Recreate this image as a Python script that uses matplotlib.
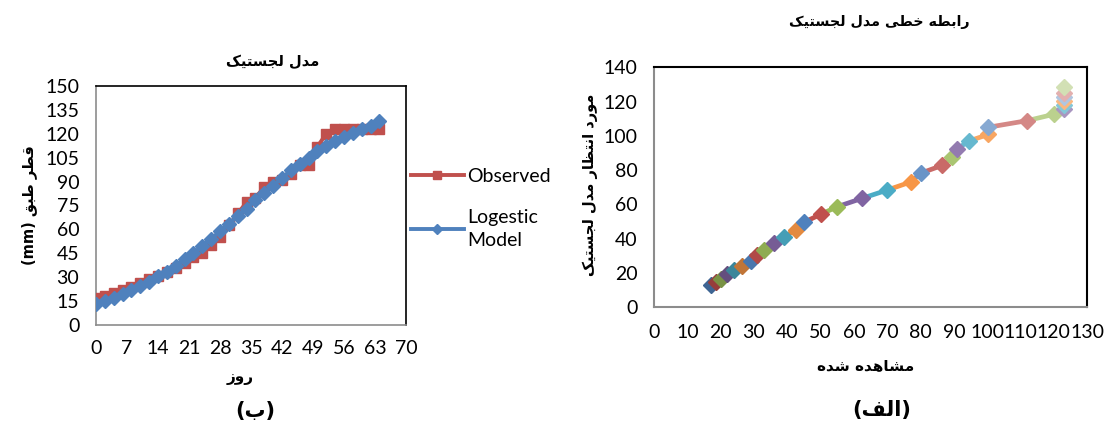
import matplotlib
matplotlib.use("Agg")
import matplotlib.pyplot as plt
import matplotlib.colors as mcolors

# ---------------- data ----------------
days = [0, 2, 4, 6, 8, 10, 12, 14, 16, 18, 20, 22, 24, 26, 28, 30, 32,
        34, 36, 38, 40, 42, 44, 46, 48, 50, 52, 54, 56, 58, 60, 62, 64]
observed = [17, 18.5, 20, 22, 24, 26.5, 29, 31, 33, 36, 39, 42.5, 45, 50, 55,
            62.5, 70, 77, 80, 86.5, 89.5, 91, 94.5, 100.4, 100.2, 112, 120,
            123, 123, 123, 123, 123, 123]
logistic = [13.0, 14.9, 16.7, 19.2, 21.8, 24.3, 27.0, 30.5, 33.4, 37.3, 41.2,
            45.1, 49.6, 54.2, 58.7, 63.6, 68.4, 73.1, 78.2, 82.8, 87.5, 92.4,
            97.0, 100.9, 105.0, 108.9, 112.6, 115.5, 118.0, 120.5, 122.9,
            125.2, 128.3]
left_xticks = [0, 7, 14, 21, 28, 35, 42, 49, 56, 63, 70]
left_yticks = [0, 15, 30, 45, 60, 75, 90, 105, 120, 135, 150]
right_xticks = [0, 10, 20, 30, 40, 50, 60, 70, 80, 90, 100, 110, 120, 130]
right_yticks = [0, 20, 40, 60, 80, 100, 120, 140]
legend_labels = ["Observed", "Logestic\nModel"]

title_left = "مدل لجستیک"
ylabel_left = "قطر طبق"
xlabel_left = "روز"
title_right = "رابطه خطی مدل لجستیک"
ylabel_right = "مورد انتظار مدل لجستیک"
xlabel_right = "مشاهده شده"
cap_left = "ب"
cap_right = "الف"

# ---------------- minimal Arabic shaping (visual order) ----------------
FORMS = {
    'ا': (0xFE8D, 0xFE8E, None, None),
    'ب': (0xFE8F, 0xFE90, 0xFE91, 0xFE92),
    'ت': (0xFE95, 0xFE96, 0xFE97, 0xFE98),
    'ج': (0xFE9D, 0xFE9E, 0xFE9F, 0xFEA0),
    'خ': (0xFEA5, 0xFEA6, 0xFEA7, 0xFEA8),
    'د': (0xFEA9, 0xFEAA, None, None),
    'ر': (0xFEAD, 0xFEAE, None, None),
    'ز': (0xFEAF, 0xFEB0, None, None),
    'س': (0xFEB1, 0xFEB2, 0xFEB3, 0xFEB4),
    'ش': (0xFEB5, 0xFEB6, 0xFEB7, 0xFEB8),
    'ط': (0xFEC1, 0xFEC2, 0xFEC3, 0xFEC4),
    'ظ': (0xFEC5, 0xFEC6, 0xFEC7, 0xFEC8),
    'ف': (0xFED1, 0xFED2, 0xFED3, 0xFED4),
    'ق': (0xFED5, 0xFED6, 0xFED7, 0xFED8),
    'ل': (0xFEDD, 0xFEDE, 0xFEDF, 0xFEE0),
    'م': (0xFEE1, 0xFEE2, 0xFEE3, 0xFEE4),
    'ن': (0xFEE5, 0xFEE6, 0xFEE7, 0xFEE8),
    'ه': (0xFEE9, 0xFEEA, 0xFEEB, 0xFEEC),
    'و': (0xFEED, 0xFEEE, None, None),
    'ی': (0xFBFC, 0xFBFD, 0xFBFE, 0xFBFF),
    'ک': (0xFB8E, 0xFB8F, 0xFB90, 0xFB91),
}


def rtl(s):
    out = []
    n = len(s)
    for i, ch in enumerate(s):
        if ch not in FORMS:
            out.append(ch)
            continue
        f = FORMS[ch]
        prev = s[i - 1] if i > 0 else None
        nxt = s[i + 1] if i < n - 1 else None
        jp = prev in FORMS and FORMS[prev][2] is not None
        jn = f[2] is not None and nxt in FORMS
        if jp and jn:
            cp = f[3]
        elif jp:
            cp = f[1]
        elif jn:
            cp = f[2]
        else:
            cp = f[0]
        out.append(chr(cp))
    return "".join(out[::-1])


# ---------------- figure ----------------
plt.rcParams['font.family'] = ['Lato', 'DejaVu Sans']
fig = plt.figure(figsize=(11.05, 4.30), dpi=100)
AR = ['DejaVu Sans']

RED = "#C0504D"
BLUE = "#4F81BD"
TICKFS = 14

# Left chart
axL = fig.add_axes([0.0869, 0.2442, 0.2805, 0.5558])
lo, = axL.plot(days, observed, color=RED, lw=2.8, marker='s', ms=7,
               mec=RED, mfc=RED, zorder=3)
ll, = axL.plot(days, logistic, color=BLUE, lw=2.8, marker='D', ms=7,
               mec=BLUE, mfc=BLUE, zorder=4)
axL.set_xlim(0, 70)
axL.set_ylim(0, 150)
axL.set_xticks(left_xticks)
axL.set_yticks(left_yticks)
axL.tick_params(axis='both', length=0, labelsize=TICKFS)
axL.tick_params(axis='y', pad=12)
axL.tick_params(axis='x', pad=11)
for sp in ('left', 'bottom'):
    axL.spines[sp].set_color('#8c8c8c')
    axL.spines[sp].set_linewidth(1.2)
for sp in ('top', 'right'):
    axL.spines[sp].set_color('#000000')
    axL.spines[sp].set_linewidth(1.2)

leg = fig.legend([lo, ll], legend_labels, loc='upper left',
                 bbox_to_anchor=(0.365, 0.628), frameon=False,
                 fontsize=TICKFS, handlelength=2.7, handletextpad=0.2,
                 labelspacing=1.25, borderaxespad=0, markerscale=0.8)
for t in leg.get_texts():
    t.set_linespacing(1.45)

fig.text(0.247, 0.856, rtl(title_left), family=AR, weight='bold',
         fontsize=10.5, ha='center', va='center')
fig.text(0.026, 0.523, "(mm) " + rtl(ylabel_left), family=AR, weight='bold',
         fontsize=10.5, ha='center', va='center', rotation=90)
fig.text(0.217, 0.121, rtl(xlabel_left), family=AR, weight='bold',
         fontsize=11, ha='center', va='center')
fig.text(0.231, 0.044, "(" + rtl(cap_left) + ")", family=AR, weight='bold',
         fontsize=15, ha='center', va='center')

# Right chart
axR = fig.add_axes([0.5919, 0.2853, 0.3919, 0.5581])
base = ["#4F81BD", "#C0504D", "#9BBB59", "#8064A2", "#4BACC6", "#F79646"]
factors = [-0.22, -0.08, 0.0, 0.15, 0.32, 0.55]


def shade(c, f):
    r, g, b = mcolors.to_rgb(c)
    if f < 0:
        k = 1 + f
        return (r * k, g * k, b * k)
    return (r + (1 - r) * f, g + (1 - g) * f, b + (1 - b) * f)


npts = len(observed)
cols = [shade(base[i % 6], factors[min(i // 6, 5)]) for i in range(npts)]
for i in range(1, npts):
    axR.plot(observed[i - 1:i + 1], logistic[i - 1:i + 1], color=cols[i],
             lw=3.4, solid_capstyle='round', zorder=2)
for i in range(npts):
    axR.plot([observed[i]], [logistic[i]], marker='D', ms=8.5, color=cols[i],
             mec=cols[i], zorder=3, ls='none')
axR.set_xlim(0, 130)
axR.set_ylim(0, 140)
axR.set_xticks(right_xticks)
axR.set_yticks(right_yticks)
axR.tick_params(axis='both', length=0, labelsize=TICKFS)
axR.tick_params(axis='y', pad=12)
axR.tick_params(axis='x', pad=12)
for sp in ('left', 'bottom'):
    axR.spines[sp].set_color('#8c8c8c')
    axR.spines[sp].set_linewidth(1.5)
for sp in ('top', 'right'):
    axR.spines[sp].set_color('#000000')
    axR.spines[sp].set_linewidth(1.5)

fig.text(0.796, 0.949, rtl(title_right), family=AR, weight='bold',
         fontsize=10.3, ha='center', va='center')
fig.text(0.534, 0.570, rtl(ylabel_right), family=AR, weight='bold',
         fontsize=10.5, ha='center', va='center', rotation=90)
fig.text(0.783, 0.149, rtl(xlabel_right), family=AR, weight='bold',
         fontsize=11, ha='center', va='center')
fig.text(0.798, 0.047, "(" + rtl(cap_right) + ")", family=AR, weight='bold',
         fontsize=15, ha='center', va='center')

fig.savefig("out.png", dpi=100, facecolor='white')
